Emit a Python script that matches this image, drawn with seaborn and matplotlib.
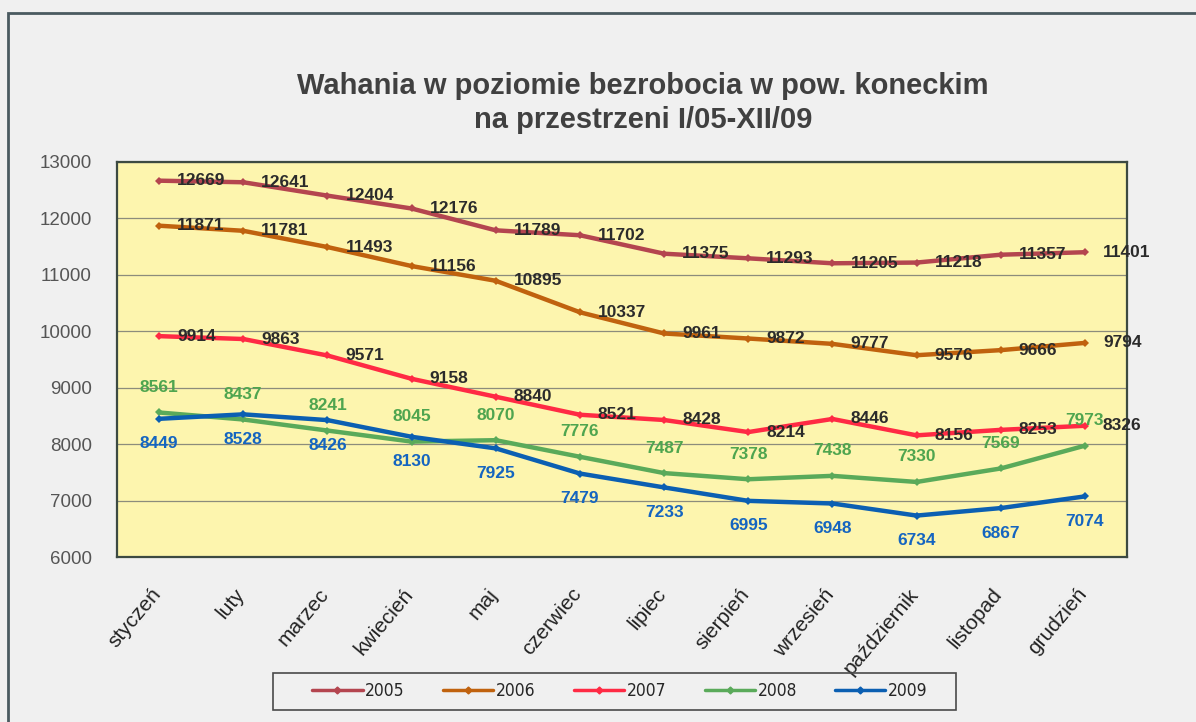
import pandas as pd
import matplotlib.pyplot as plt
import matplotlib.patches as patches
import matplotlib.transforms as mtrans
import seaborn as sns

# months and yearly series (unemployed persons, pow. konecki)
months = ["styczeń", "luty", "marzec", "kwiecień", "maj", "czerwiec", "lipiec",
          "sierpień", "wrzesień", "październik", "listopad", "grudzień"]
years = ["2005", "2006", "2007", "2008", "2009"]
v2005 = [12669, 12641, 12404, 12176, 11789, 11702, 11375, 11293, 11205, 11218, 11357, 11401]
v2006 = [11871, 11781, 11493, 11156, 10895, 10337, 9961, 9872, 9777, 9576, 9666, 9794]
v2007 = [9914, 9863, 9571, 9158, 8840, 8521, 8428, 8214, 8446, 8156, 8253, 8326]
v2008 = [8561, 8437, 8241, 8045, 8070, 7776, 7487, 7378, 7438, 7330, 7569, 7973]
v2009 = [8449, 8528, 8426, 8130, 7925, 7479, 7233, 6995, 6948, 6734, 6867, 7074]
yticks = [6000, 7000, 8000, 9000, 10000, 11000, 12000, 13000]

series = dict(zip(years, [v2005, v2006, v2007, v2008, v2009]))
rows = []
for y, vals in series.items():
    for i, v in enumerate(vals):
        rows.append({"rok": y, "mies": i, "liczba": v})
df = pd.DataFrame(rows)

colors = {"2005": "#b4454f", "2006": "#c0620e", "2007": "#ff2a44",
          "2008": "#5aaa5a", "2009": "#0b5fb2"}
# where the value labels go: right of point, above or below
label_style = {"2005": ("#2b2b2b", "right"), "2006": ("#2b2b2b", "right"),
               "2007": ("#2b2b2b", "right"), "2008": ("#4fa54f", "above"),
               "2009": ("#1565c0", "below")}

sns.set_style("white")
plt.rcParams["font.family"] = ["Liberation Sans", "DejaVu Sans"]

fig = plt.figure(figsize=(11.96, 7.22), dpi=100, facecolor="#f0f0f0")
ax = fig.add_axes([117 / 1196, 1 - 557 / 722, 1010 / 1196, 395 / 722])
ax.set_facecolor("#fdf5ae")

sns.lineplot(data=df, x="mies", y="liczba", hue="rok", palette=colors,
             marker="D", markersize=4.5, markeredgewidth=0, linewidth=3.2,
             ax=ax, legend=False)

for y, vals in series.items():
    col, pos = label_style[y]
    for i, v in enumerate(vals):
        if pos == "right":
            ax.annotate(str(v), (i, v), xytext=(13, 0), textcoords="offset points",
                        ha="left", va="center", fontsize=12.5, fontweight="bold", color=col)
        elif pos == "above":
            ax.annotate(str(v), (i, v), xytext=(0, 18), textcoords="offset points",
                        ha="center", va="center", fontsize=12.5, fontweight="bold", color=col)
        else:
            ax.annotate(str(v), (i, v), xytext=(0, -18), textcoords="offset points",
                        ha="center", va="center", fontsize=12.5, fontweight="bold", color=col)

ax.set_xlim(-0.5, 11.5)
ax.set_ylim(6000, 13000)
ax.set_yticks(yticks)
ax.set_yticklabels([str(t) for t in yticks])
ax.set_xticks(range(len(months)))
ax.set_xticklabels(months, rotation=50, ha="right", va="top", rotation_mode="anchor")
ax.set_xticks([i - 0.5 for i in range(len(months) + 1)], minor=True)
ax.tick_params(axis="x", which="major", length=0, pad=20, labelsize=15, labelcolor="#222222")
ax.tick_params(axis="x", which="minor", length=6, width=1.2, color="#444444", direction="out")
ax.tick_params(axis="y", length=6, width=1.2, color="#444444", direction="out",
               pad=12, labelsize=13.5, labelcolor="#555555")
# nudge month labels a little to the left
shift = mtrans.ScaledTranslation(-9 / 100, 0, fig.dpi_scale_trans)
for lab in ax.get_xticklabels():
    lab.set_transform(lab.get_transform() + shift)
ax.yaxis.grid(True, color="#8c8c7c", linewidth=0.9)
ax.set_axisbelow(True)
ax.set_xlabel("")
ax.set_ylabel("")
for s in ax.spines.values():
    s.set_visible(True)
    s.set_color("#3c4a42")
    s.set_linewidth(1.6)

fig.text(643 / 1196, 1 - 103 / 722,
         "Wahania w poziomie bezrobocia w pow. koneckim\nna przestrzeni I/05-XII/09",
         ha="center", va="center", fontsize=21, fontweight="bold", color="#404040",
         linespacing=1.3)

handles = [plt.Line2D([], [], color=colors[y], lw=2.5, marker="D", markersize=3.5) for y in years]
leg = fig.legend(handles, years, loc="center", bbox_to_anchor=(620 / 1196, 1 - 691 / 722),
                 ncol=5, frameon=False, handlelength=2.9, handletextpad=0.15,
                 columnspacing=2.2, borderaxespad=0,
                 prop={"family": "DejaVu Sans", "stretch": "condensed", "size": 12.5})
# legend box
fig.patches.append(patches.Rectangle((273 / 1196, 1 - 710 / 722), 683 / 1196, 37 / 722,
                                     transform=fig.transFigure, fill=False,
                                     edgecolor="#4a4a4a", linewidth=1.2))

# outer chart frame
fig.patches.append(patches.Rectangle((8 / 1196, -0.1), 1.2, 1 - 13 / 722 + 0.1,
                                     transform=fig.transFigure, fill=False,
                                     edgecolor="#4a5a60", linewidth=2))

fig.savefig("out.png", dpi=100, facecolor=fig.get_facecolor())
